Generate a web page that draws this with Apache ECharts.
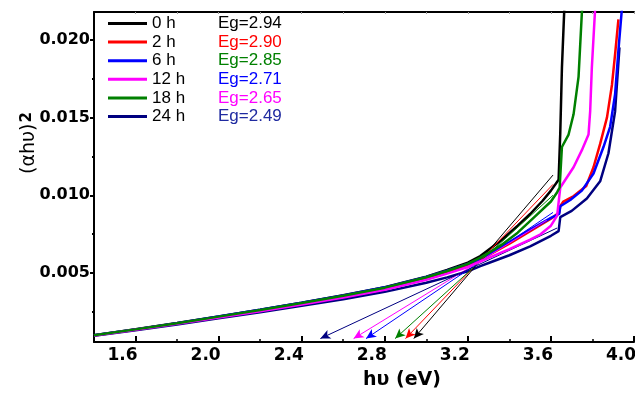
<!DOCTYPE html>
<html>
<head>
<meta charset="utf-8">
<script src="https://cdn.jsdelivr.net/npm/echarts@6/dist/echarts.min.js"></script>
<style>html,body{margin:0;padding:0;background:#fff}#c{width:635px;height:395px}</style>
</head>
<body>
<div id="c"></div>
<script>
// ---- data ----
const seriesNames = ['0 h', '2 h', '6 h', '12 h', '18 h', '24 h'];
const seriesColors = ['#000000', '#ff0000', '#0000ff', '#ff00ff', '#008000', '#000080'];
const egLabels = ['Eg=2.94', 'Eg=2.90', 'Eg=2.85', 'Eg=2.71', 'Eg=2.65', 'Eg=2.49'];
const egLabelColors = ['#000000', '#ff0000', '#008000', '#0000ff', '#ff00ff', '#1f2aa0'];

const h0 = [[1.40,0.00102],[1.60,0.00140],[1.80,0.00180],[2.00,0.00222],[2.20,0.00265],[2.40,0.00310],[2.60,0.00358],[2.80,0.00410],[3.00,0.00478],[3.10,0.00520],[3.20,0.00568],[3.26,0.00610],[3.30,0.00650],[3.36,0.00710],[3.44,0.00805],[3.50,0.00880],[3.56,0.00965],[3.60,0.01030],[3.637,0.01100],[3.645,0.01400],[3.653,0.01820],[3.666,0.02250]];
const h2 = [[1.40,0.00100],[1.60,0.00137],[1.80,0.00176],[2.00,0.00217],[2.20,0.00259],[2.40,0.00303],[2.60,0.00349],[2.80,0.00400],[3.00,0.00466],[3.10,0.00506],[3.20,0.00550],[3.26,0.00585],[3.30,0.00615],[3.40,0.00690],[3.50,0.00770],[3.60,0.00850],[3.64,0.00890],[3.645,0.00930],[3.66,0.00960],[3.71,0.00995],[3.77,0.01060],[3.805,0.01180],[3.837,0.01330],[3.87,0.01500],[3.894,0.01710],[3.91,0.01920],[3.925,0.02130]];
const h6 = [[1.40,0.00101],[1.60,0.00139],[1.80,0.00179],[2.00,0.00222],[2.20,0.00265],[2.40,0.00310],[2.60,0.00357],[2.80,0.00409],[3.00,0.00476],[3.10,0.00516],[3.20,0.00560],[3.26,0.00592],[3.30,0.00622],[3.40,0.00700],[3.50,0.00780],[3.60,0.00855],[3.64,0.00880],[3.645,0.00930],[3.693,0.00970],[3.749,0.01030],[3.805,0.01140],[3.853,0.01310],[3.885,0.01440],[3.909,0.01650],[3.925,0.01930],[3.945,0.02250]];
const h12 = [[1.40,0.00099],[1.60,0.00136],[1.80,0.00175],[2.00,0.00215],[2.20,0.00256],[2.40,0.00299],[2.60,0.00344],[2.80,0.00394],[3.00,0.00458],[3.10,0.00497],[3.20,0.00540],[3.26,0.00575],[3.30,0.00598],[3.40,0.00655],[3.50,0.00715],[3.55,0.00750],[3.60,0.00805],[3.63,0.00870],[3.645,0.01050],[3.709,0.01180],[3.749,0.01290],[3.781,0.01390],[3.789,0.01540],[3.797,0.01820],[3.815,0.02250]];
const h18 = [[1.40,0.00101],[1.60,0.00139],[1.80,0.00179],[2.00,0.00221],[2.20,0.00263],[2.40,0.00308],[2.60,0.00355],[2.80,0.00407],[3.00,0.00474],[3.10,0.00514],[3.20,0.00560],[3.26,0.00600],[3.30,0.00630],[3.36,0.00680],[3.44,0.00760],[3.52,0.00860],[3.60,0.00960],[3.63,0.01020],[3.642,0.01050],[3.653,0.01310],[3.685,0.01390],[3.709,0.01520],[3.733,0.01760],[3.752,0.02250]];
const h24 = [[1.40,0.00098],[1.60,0.00134],[1.80,0.00171],[2.00,0.00210],[2.20,0.00249],[2.40,0.00290],[2.60,0.00333],[2.80,0.00380],[3.00,0.00438],[3.10,0.00473],[3.20,0.00512],[3.26,0.00545],[3.30,0.00565],[3.40,0.00615],[3.50,0.00672],[3.60,0.00740],[3.637,0.00770],[3.645,0.00860],[3.70,0.00900],[3.773,0.00980],[3.837,0.01090],[3.877,0.01270],[3.909,0.01540],[3.93,0.01950]];
const seriesData = [h0, h2, h6, h12, h18, h24];

// tangent (Tauc) lines: arrow tip at the band-gap, other end on the linear part
const tangentTip = [[2.94,0.0008],[2.90,0.0008],[2.71,0.0008],[2.65,0.0008],[2.85,0.0008],[2.49,0.0008]];
const tangentEnd = [[3.61,0.0113],[3.61,0.0107],[3.61,0.0089],[3.58,0.0084],[3.61,0.0100],[3.63,0.0079]];

const xMajorTicks = [1.6, 2.0, 2.4, 2.8, 3.2, 3.6, 4.0];
const xMinorTicks = [1.8, 2.2, 2.6, 3.0, 3.4, 3.8];
const yMajorTicks = [0.005, 0.010, 0.015, 0.020];
const yMinorTicks = [0.0025, 0.0075, 0.0125, 0.0175];
const xRange = [1.4, 4.0];
const yRange = [0.00058, 0.02177];

// ---- chart ----
const chart = echarts.init(document.getElementById('c'), null, {renderer: 'canvas'});
const grid = {left: 94, right: 1, top: 12, bottom: 53, containLabel: false, outerBoundsMode: 'none'};
const axisFont = 'DejaVu Sans';

const rich = {n: {width: 66, fontSize: 17, lineHeight: 16, color: '#000', fontFamily: 'Liberation Sans'}};
egLabelColors.forEach((c, i) => { rich['e' + i] = {fontSize: 17, lineHeight: 16, color: c, fontFamily: 'Liberation Sans'}; });

const series = seriesNames.map((name, i) => ({
  name: name,
  type: 'line',
  data: seriesData[i],
  symbol: 'none',
  smooth: false,
  clip: true,
  z: [2, 3, 4, 5, 6, 3][i],
  lineStyle: {color: seriesColors[i], width: 2.5},
  itemStyle: {color: seriesColors[i]},
  markLine: {
    silent: true,
    animation: false,
    symbol: ['arrow', 'none'],
    symbolSize: [7, 10],
    label: {show: false},
    lineStyle: {color: seriesColors[i], width: 1, type: 'solid'},
    data: [[{coord: tangentTip[i]}, {coord: tangentEnd[i]}]]
  }
}));

const option = {
  animation: false,
  backgroundColor: '#fff',
  grid: grid,
  legend: {
    show: true,
    data: seriesNames,
    orient: 'vertical',
    left: 108,
    top: 15,
    padding: 0,
    icon: 'rect',
    itemWidth: 39,
    itemHeight: 3,
    itemGap: 1.6,
    formatter: (name) => {
      const i = seriesNames.indexOf(name);
      return '{n|' + name + '}{e' + i + '|' + egLabels[i] + '}';
    },
    textStyle: {rich: rich}
  },
  xAxis: [{
    type: 'value', min: xRange[0], max: xRange[1], position: 'bottom',
    axisLine: {show: true, lineStyle: {color: '#000', width: 2}},
    splitLine: {show: false},
    axisTick: {show: true, inside: true, length: 6, customValues: xMajorTicks, lineStyle: {color: '#000', width: 2}},
    axisLabel: {customValues: xMajorTicks, formatter: v => v.toFixed(1), fontFamily: axisFont, fontWeight: 'bold', fontSize: 17, color: '#000', margin: 5, padding: [0, 26, 0, 0]}
  }, {
    type: 'value', min: xRange[0], max: xRange[1], position: 'bottom',
    axisLine: {show: false},
    splitLine: {show: false},
    axisTick: {show: true, inside: true, length: 3, customValues: xMinorTicks, lineStyle: {color: '#000', width: 1.5}},
    axisLabel: {show: false}
  }, {
    type: 'value', min: xRange[0], max: xRange[1], position: 'top',
    axisLine: {show: true, onZero: false, lineStyle: {color: '#000', width: 2}},
    splitLine: {show: false},
    axisTick: {show: true, inside: true, length: 2, customValues: xMajorTicks.concat(xMinorTicks), lineStyle: {color: '#999', width: 1}},
    axisLabel: {show: false}
  }],
  yAxis: [{
    type: 'value', min: yRange[0], max: yRange[1], position: 'left',
    axisLine: {show: true, onZero: false, lineStyle: {color: '#000', width: 2}},
    splitLine: {show: false},
    axisTick: {show: true, inside: false, length: 4, customValues: yMajorTicks, lineStyle: {color: '#000', width: 2}},
    axisLabel: {customValues: yMajorTicks, formatter: v => v.toFixed(3), fontFamily: axisFont, fontWeight: 'bold', fontSize: 16, color: '#000', margin: 4}
  }, {
    type: 'value', min: yRange[0], max: yRange[1], position: 'left',
    axisLine: {show: false},
    splitLine: {show: false},
    axisTick: {show: true, inside: false, length: 2, customValues: yMinorTicks, lineStyle: {color: '#000', width: 2}},
    axisLabel: {show: false}
  }],
  graphic: [{
    type: 'text', left: 363, top: 371,
    style: {text: 'hυ (eV)', font: 'bold 19px "DejaVu Sans"', fill: '#000'}
  }, {
    type: 'text', x: 28, y: 143, rotation: Math.PI / 2,
    style: {
      text: '{a|(αhυ)}{s|2}', align: 'center', verticalAlign: 'middle',
      rich: {
        a: {fontSize: 19, fontFamily: 'DejaVu Sans', fill: '#000', color: '#000', lineHeight: 22, verticalAlign: 'bottom'},
        s: {fontSize: 15, fontFamily: 'DejaVu Sans', fontWeight: 'bold', fill: '#000', color: '#000', lineHeight: 22, verticalAlign: 'bottom', padding: [0, 0, 4, 1]}
      }
    }
  }],
  series: series
};
chart.setOption(option);
</script>
</body>
</html>
